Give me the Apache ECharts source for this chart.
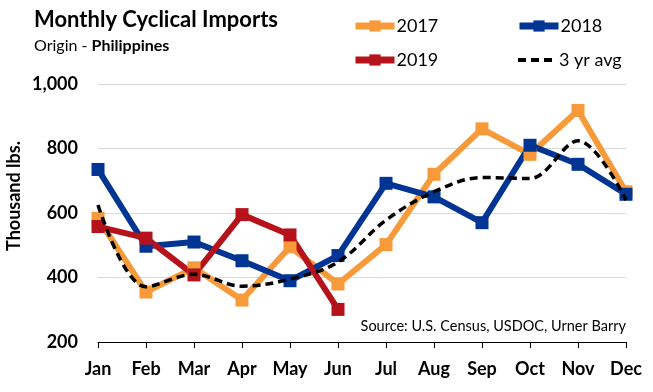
<!DOCTYPE html>
<html><head><meta charset="utf-8">
<script src="https://cdn.jsdelivr.net/npm/echarts@6/dist/echarts.min.js"></script>
<style>html,body{margin:0;padding:0;background:#fff}#c{width:653px;height:392px}</style>
</head><body><div id="c"></div>
<script>
const months = ['Jan','Feb','Mar','Apr','May','Jun','Jul','Aug','Sep','Oct','Nov','Dec'];
const y2017 = [583, 355, 430, 330, 495, 380, 502, 720, 861, 782, 918, 666];
const y2018 = [735, 497, 510, 452, 390, 468, 692, 650, 570, 810, 751, 658];
const y2019 = [558, 522, 408, 595, 532, 301];
const avg3 = [625, 371, 410, 373, 395, 448, 578, 666, 710, 707, 824, 640];
const yTicks = [200, 400, 600, 800, 1000];

const F = 'Lato, "Open Sans", sans-serif';
const chart = echarts.init(document.getElementById('c'));
function lineSeries(name, data, color) {
  return {name, type:'line', data, color, symbol:'rect', symbolSize:13,
    lineStyle:{width:6, color}, itemStyle:{color}, z:3};
}
function leg(item, left, top, lw) {
  return {data:[item], left, top, padding:0, itemWidth:39, itemHeight:14, itemGap:0,
    lineStyle:{width:lw},
    textStyle:{fontFamily:F, fontSize:18, color:'#000', padding:[0,0,0,-3]}};
}
chart.setOption({
  animation:false,
  title:[{text:'Monthly Cyclical Imports', left:29, top:4,
    textStyle:{fontFamily:F, fontSize:22, fontWeight:'bold', color:'#000'}},
    {text:'{n|Origin - }{b|Philippines}', left:29, top:33,
    textStyle:{fontWeight:'normal', rich:{n:{fontFamily:F, fontSize:16, fontWeight:'normal', color:'#000'}, b:{fontFamily:F, fontSize:16, fontWeight:'bold', color:'#000'}}}}],
  legend:[leg('2017',352,17,7), leg('2018',516,17,7), leg('2019',352,51,7),
    leg({name:'3 yr avg', itemStyle:{opacity:0}},516,51,4)],
  grid:{left:98, right:27, top:84, bottom:50},
  xAxis:{type:'category', data:months, boundaryGap:false,
    axisLine:{lineStyle:{color:'#000', width:1}},
    axisTick:{show:true, length:6, lineStyle:{color:'#000'}},
    axisLabel:{fontFamily:F, fontSize:18, fontWeight:'bold', color:'#000', margin:18}},
  yAxis:{type:'value', min:200, max:1000, interval:200,
    axisLine:{show:false}, axisTick:{show:false},
    splitLine:{lineStyle:{color:'#d9d9d9', width:1}},
    axisLabel:{fontFamily:F, fontSize:18, fontWeight:'bold', color:'#000', margin:20,
      formatter:v => yTicks.includes(v) ? v.toLocaleString('en-US') : ''}},
  graphic:[
    {type:'text', right:27, top:319,
      style:{text:'Source: U.S. Census, USDOC, Urner Barry', fontFamily:F, fontSize:14.5, fill:'#000', textAlign:'right'}},
    {type:'text', x:14, y:196, rotation:Math.PI/2,
      style:{text:'Thousand lbs.', fontFamily:F, fontSize:18, fontWeight:'bold', fill:'#000', align:'center', verticalAlign:'middle'}}
  ],
  series:[
    lineSeries('2017', y2017, '#F79A3A'),
    lineSeries('2018', y2018, '#003594'),
    lineSeries('2019', y2019, '#B5121B'),
    {name:'3 yr avg', type:'line', data:avg3, smooth:0.35, symbol:'none', color:'#000',
      lineStyle:{width:3.5, type:[8,5], color:'#000'}, itemStyle:{color:'#000'}, z:4}
  ]
});
</script></body></html>
